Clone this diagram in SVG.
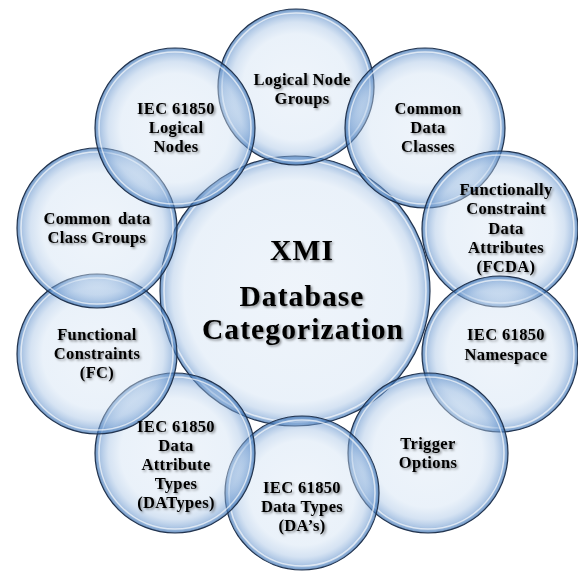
<svg xmlns="http://www.w3.org/2000/svg" width="578" height="571" viewBox="0 0 578 571">
<defs>
  <radialGradient id="bub" cx="50%" cy="50%" r="50%">
    <stop offset="0%" stop-color="#dbe7f5" stop-opacity="0.45"/>
    <stop offset="68%" stop-color="#d0e1f3" stop-opacity="0.45"/>
    <stop offset="83%" stop-color="#a3c1e4" stop-opacity="0.45"/>
    <stop offset="93%" stop-color="#6b98cf" stop-opacity="0.55"/>
    <stop offset="98%" stop-color="#4077b8" stop-opacity="0.65"/>
    <stop offset="100%" stop-color="#2e5f9c" stop-opacity="0.75"/>
  </radialGradient>
  <radialGradient id="bubC" cx="50%" cy="50%" r="50%">
    <stop offset="0%" stop-color="#dbe7f5" stop-opacity="0.45"/>
    <stop offset="82%" stop-color="#d0e1f3" stop-opacity="0.45"/>
    <stop offset="91%" stop-color="#a3c1e4" stop-opacity="0.45"/>
    <stop offset="96.5%" stop-color="#6b98cf" stop-opacity="0.55"/>
    <stop offset="99%" stop-color="#4077b8" stop-opacity="0.65"/>
    <stop offset="100%" stop-color="#2e5f9c" stop-opacity="0.75"/>
  </radialGradient>
  <filter id="sh" x="-10%" y="-30%" width="130%" height="160%">
    <feDropShadow dx="1.5" dy="1.5" stdDeviation="0.9" flood-color="#000" flood-opacity="0.45"/>
  </filter>
</defs>
<style>
  .b { fill: url(#bub); stroke: #22344f; stroke-width: 1.2; }
  .bc { fill: url(#bubC); stroke: #22344f; stroke-width: 1.2; }
  .hl { fill: none; stroke: #ffffff; stroke-width: 1.6; stroke-opacity: 0.65; }
  .t { font-family: "Liberation Serif", "Times New Roman", serif; font-weight: bold; font-size: 16.5px; letter-spacing: 0.35px; fill: #000; text-anchor: middle; filter: url(#sh); }
  .tc { font-family: "Liberation Serif", "Times New Roman", serif; font-weight: bold; font-size: 29.5px; letter-spacing: 1.1px; fill: #000; text-anchor: middle; filter: url(#sh); }
</style>
<rect width="578" height="571" fill="#ffffff"/>

<g id="center">
  <circle class="bc" cx="295" cy="291" r="135"/>
  <circle class="hl" cx="295" cy="291" r="131"/>
</g>

<g id="logical-node-groups">
  <circle class="b" cx="296" cy="87" r="78"/>
  <circle class="hl" cx="296" cy="87" r="74"/>
</g>
<g id="common-data-classes">
  <circle class="b" cx="425" cy="128" r="80"/>
  <circle class="hl" cx="425" cy="128" r="76"/>
</g>
<g id="fcda">
  <circle class="b" cx="500" cy="229" r="78"/>
  <circle class="hl" cx="500" cy="229" r="74"/>
</g>
<g id="namespace">
  <circle class="b" cx="500" cy="354" r="78"/>
  <circle class="hl" cx="500" cy="354" r="74"/>
</g>
<g id="trigger-options">
  <circle class="b" cx="428" cy="453" r="80"/>
  <circle class="hl" cx="428" cy="453" r="76"/>
</g>
<g id="data-types">
  <circle class="b" cx="302" cy="493" r="77"/>
  <circle class="hl" cx="302" cy="493" r="73"/>
</g>
<g id="data-attribute-types">
  <circle class="b" cx="175" cy="453" r="80"/>
  <circle class="hl" cx="175" cy="453" r="76"/>
</g>
<g id="functional-constraints">
  <circle class="b" cx="97" cy="354" r="80"/>
  <circle class="hl" cx="97" cy="354" r="76"/>
</g>
<g id="common-data-class-groups">
  <circle class="b" cx="97" cy="228" r="80"/>
  <circle class="hl" cx="97" cy="228" r="76"/>
</g>
<g id="logical-nodes">
  <circle class="b" cx="175" cy="128" r="80"/>
  <circle class="hl" cx="175" cy="128" r="76"/>
</g>

<g id="labels">
  <text class="tc" x="302" y="260">XMI</text>
  <text class="tc" x="302" y="306">Database</text>
  <text class="tc" x="303" y="339">Categorization</text>

  <text class="t" x="302" y="85">Logical Node</text>
  <text class="t" x="302" y="104">Groups</text>

  <text class="t" x="428" y="114">Common</text>
  <text class="t" x="428" y="133">Data</text>
  <text class="t" x="428" y="152">Classes</text>

  <text class="t" x="506" y="195">Functionally</text>
  <text class="t" x="506" y="214">Constraint</text>
  <text class="t" x="506" y="234">Data</text>
  <text class="t" x="506" y="253">Attributes</text>
  <text class="t" x="506" y="272">(FCDA)</text>

  <text class="t" x="506" y="340">IEC 61850</text>
  <text class="t" x="506" y="360">Namespace</text>

  <text class="t" x="428" y="449">Trigger</text>
  <text class="t" x="428" y="468">Options</text>

  <text class="t" x="302" y="493">IEC 61850</text>
  <text class="t" x="302" y="512">Data Types</text>
  <text class="t" x="302" y="531">(DA’s)</text>

  <text class="t" x="176" y="432">IEC 61850</text>
  <text class="t" x="176" y="451">Data</text>
  <text class="t" x="176" y="470">Attribute</text>
  <text class="t" x="176" y="489">Types</text>
  <text class="t" x="176" y="508">(DATypes)</text>

  <text class="t" x="97" y="340">Functional</text>
  <text class="t" x="97" y="359">Constraints</text>
  <text class="t" x="97" y="378">(FC)</text>

  <text class="t" x="97" y="224" word-spacing="3">Common data</text>
  <text class="t" x="97" y="243">Class Groups</text>

  <text class="t" x="176" y="114">IEC 61850</text>
  <text class="t" x="176" y="133">Logical</text>
  <text class="t" x="176" y="152">Nodes</text>
</g>
</svg>
